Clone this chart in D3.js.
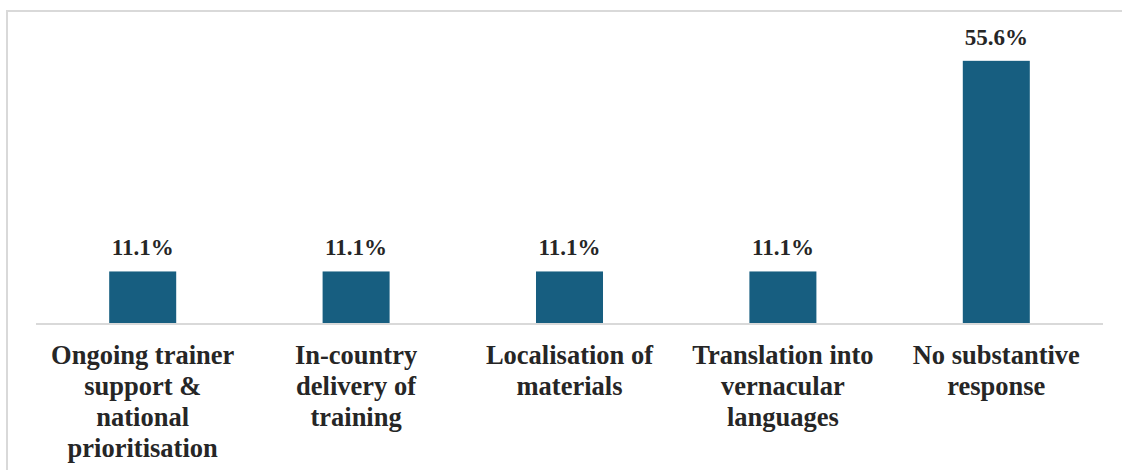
<!DOCTYPE html>
<html>
<head>
<meta charset="utf-8">
<script src="https://cdn.jsdelivr.net/npm/d3@7"></script>
<style>
  body { margin: 0; background: #fff; }
  text { font-family: "Liberation Serif", "Times New Roman", Times, serif; font-weight: bold; }
</style>
</head>
<body>
<div id="chart"></div>
<script>
// Dados
var categories = [
  ["Ongoing trainer", "support &", "national", "prioritisation"],
  ["In-country", "delivery of", "training"],
  ["Localisation of", "materials"],
  ["Translation into", "vernacular", "languages"],
  ["No substantive", "response"]
];
var values = [11.1, 11.1, 11.1, 11.1, 55.6];
var valueLabels = ["11.1%", "11.1%", "11.1%", "11.1%", "55.6%"];

var w = 1122, h = 470;
var margin = {top: 40, right: 19, bottom: 146, left: 36};
var width = w - margin.left - margin.right;
var height = h - margin.top - margin.bottom;

var data = values.map(function(v, i) {
  return {id: i, value: v, label: valueLabels[i], lines: categories[i]};
});

var svg = d3.select("#chart")
  .append("svg")
  .attr("width", w)
  .attr("height", h);

// Moldura (so topo e esquerda visiveis)
svg.append("path")
  .attr("d", "M7,470 V11 H1122")
  .attr("fill", "none")
  .attr("stroke", "#d9d9d9")
  .attr("stroke-width", 2);

var g = svg.append("g")
  .attr("transform", "translate(" + margin.left + "," + margin.top + ")");

// Escalas
var x = d3.scaleBand()
  .domain(data.map(function(d) { return d.id; }))
  .range([0, width])
  .paddingInner(0.686)
  .paddingOuter(0.343);

var y = d3.scaleLinear()
  .domain([0, 60])
  .range([height, 0]);

// Barras
g.selectAll("rect.bar")
  .data(data)
  .enter()
  .append("rect")
  .attr("class", "bar")
  .attr("x", function(d) { return x(d.id); })
  .attr("y", function(d) { return y(d.value); })
  .attr("width", x.bandwidth())
  .attr("height", function(d) { return y(0) - y(d.value); })
  .attr("fill", "#175e80");

// Linha de base
g.append("line")
  .attr("x1", 0)
  .attr("x2", width)
  .attr("y1", y(0))
  .attr("y2", y(0))
  .attr("stroke", "#d9d9d9")
  .attr("stroke-width", 2);

// Rotulos de valor
g.selectAll("text.value")
  .data(data)
  .enter()
  .append("text")
  .attr("class", "value")
  .attr("x", function(d) { return x(d.id) + x.bandwidth() / 2; })
  .attr("y", function(d) { return y(d.value) - 16; })
  .attr("text-anchor", "middle")
  .style("font-size", "23px")
  .attr("fill", "#262626")
  .text(function(d) { return d.label; });

// Rotulos das categorias
var cat = g.selectAll("text.cat")
  .data(data)
  .enter()
  .append("text")
  .attr("class", "cat")
  .attr("x", function(d) { return x(d.id) + x.bandwidth() / 2; })
  .attr("y", y(0) + 40)
  .attr("text-anchor", "middle")
  .style("font-size", "26.5px")
  .attr("fill", "#262626");

cat.selectAll("tspan")
  .data(function(d) { return d.lines.map(function(l) { return {line: l, cx: x(d.id) + x.bandwidth() / 2}; }); })
  .enter()
  .append("tspan")
  .attr("x", function(d) { return d.cx; })
  .attr("dy", function(d, i) { return i === 0 ? 0 : 31; })
  .text(function(d) { return d.line; });
</script>
</body>
</html>
